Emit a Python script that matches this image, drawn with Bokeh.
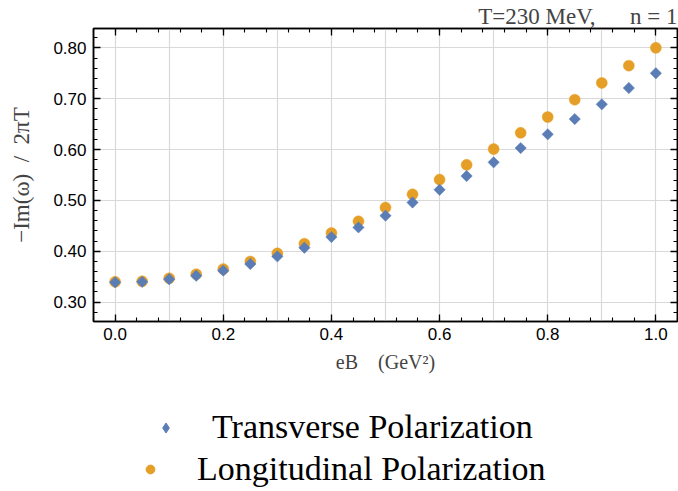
import math
from bokeh.plotting import figure
from bokeh.layouts import column
from bokeh.models import (LinearAxis, SingleIntervalTicker, NumeralTickFormatter,
                          Range1d, Legend, LegendItem, CustomLabelingPolicy)
from bokeh.embed import file_html
from bokeh.resources import INLINE

eB = [0.00, 0.05, 0.10, 0.15, 0.20, 0.25, 0.30, 0.35, 0.40, 0.45, 0.50,
      0.55, 0.60, 0.65, 0.70, 0.75, 0.80, 0.85, 0.90, 0.95, 1.00]
transverse = [0.339, 0.340, 0.345, 0.352, 0.362, 0.375, 0.390, 0.407, 0.428, 0.447, 0.470,
              0.496, 0.521, 0.548, 0.575, 0.603, 0.630, 0.660, 0.689, 0.721, 0.750]
longitudinal = [0.340, 0.341, 0.347, 0.355, 0.365, 0.380, 0.396, 0.415, 0.436, 0.459, 0.486,
                0.512, 0.541, 0.570, 0.601, 0.633, 0.664, 0.698, 0.731, 0.765, 0.800]
series_names = ["Transverse Polarization", "Longitudinal Polarization"]

BLUE = "#5a7db6"
ORANGE = "#e59f27"
NB = "\u00a0"
W = 678
H_MAIN = 385
H_LEG = 491 - H_MAIN
SERIF = "Liberation Serif"

p = figure(width=W, height=H_MAIN, output_backend="svg", toolbar_location=None,
           x_range=Range1d(-0.04, 1.04), y_range=Range1d(0.262, 0.838),
           min_border_left=93, min_border_top=28, min_border_right=1,
           min_border_bottom=H_MAIN - 321,
           title="T=230 MeV," + NB * 6 + "n" + NB + "=" + NB + "1")
p.title.align = "right"
p.title.text_font = SERIF
p.title.text_font_style = "normal"
p.title.text_font_size = "23px"
p.title.standoff = 0
p.title.offset = 0
p.background_fill_color = "white"
p.border_fill_color = "white"
p.outline_line_color = "black"
p.outline_line_width = 1.5

hide_labels = CustomLabelingPolicy(code="""
try { indices.clear() } catch (e) { for (const i of Array.from(indices)) indices.unset(i) }
return indices
""")

def style_axis(ax, show_labels):
    ax.axis_line_color = "black"
    ax.axis_line_width = 1.5
    ax.major_tick_in = 7
    ax.major_tick_out = 0
    ax.minor_tick_in = 4
    ax.minor_tick_out = 0
    ax.major_tick_line_color = "black"
    ax.minor_tick_line_color = "black"
    ax.major_tick_line_width = 1.3
    ax.minor_tick_line_width = 1.1
    ax.major_label_text_font = "Liberation Sans"
    ax.major_label_text_font_size = "17px" if show_labels else "0px"
    ax.major_label_text_color = "black"
    if not show_labels:
        ax.major_label_policy = hide_labels
        ax.major_label_standoff = 0

p.xaxis.ticker = SingleIntervalTicker(interval=0.2, num_minor_ticks=5)
p.xaxis.formatter = NumeralTickFormatter(format="0.0")
p.yaxis.ticker = SingleIntervalTicker(interval=0.1, num_minor_ticks=5)
p.yaxis.formatter = NumeralTickFormatter(format="0.00")
style_axis(p.xaxis[0], True)
style_axis(p.yaxis[0], True)
p.xaxis.major_label_standoff = 6
p.yaxis.major_label_standoff = 7

p.xaxis.axis_label = "eB" + NB * 4 + "(GeV²)"
p.xaxis.axis_label_text_font = SERIF
p.xaxis.axis_label_text_font_style = "normal"
p.xaxis.axis_label_text_font_size = "20px"
p.xaxis.axis_label_standoff = 8

p.yaxis.axis_label = "−Im(ω)" + NB * 2 + "/" + NB * 2 + "2πT"
p.yaxis.axis_label_text_font = SERIF
p.yaxis.axis_label_text_font_style = "normal"
p.yaxis.axis_label_text_font_size = "23px"
p.yaxis.axis_label_standoff = 16

top_ax = LinearAxis(ticker=SingleIntervalTicker(interval=0.2, num_minor_ticks=5))
right_ax = LinearAxis(ticker=SingleIntervalTicker(interval=0.1, num_minor_ticks=5))
style_axis(top_ax, False)
style_axis(right_ax, False)
p.add_layout(top_ax, "above")
p.add_layout(right_ax, "right")

p.xgrid.ticker = SingleIntervalTicker(interval=0.1)
p.ygrid.ticker = SingleIntervalTicker(interval=0.1)
p.xgrid.grid_line_color = "#d9d9d9"
p.ygrid.grid_line_color = "#d9d9d9"
p.xgrid.grid_line_width = 1.2
p.ygrid.grid_line_width = 1.2

LONG_STYLE = dict(marker="circle", size=11, fill_color=ORANGE, line_color=ORANGE, line_width=0.5)
TRAN_STYLE = dict(marker="square", size=8, angle=math.pi / 4,
                  fill_color=BLUE, line_color=BLUE, line_width=0.5)
p.scatter(eB, longitudinal, **LONG_STYLE)
p.scatter(eB, transverse, **TRAN_STYLE)

# legend panel below the plot (separate canvas so nothing is clipped);
# its ranges keep the series' own points out of view, only the key glyphs show
leg = figure(width=W, height=H_LEG, output_backend="svg", toolbar_location=None,
             x_range=Range1d(0, 1), y_range=Range1d(-3, -2),
             min_border=0, x_axis_type=None, y_axis_type=None)
leg.grid.visible = False
leg.outline_line_color = None
leg.background_fill_color = "white"
leg.border_fill_color = "white"
lt = leg.scatter(eB, transverse, marker="diamond", fill_color=BLUE, line_color=BLUE)
ll = leg.scatter(eB, longitudinal, marker="circle", fill_color=ORANGE, line_color=ORANGE)

def make_legend(label, renderer, loc, gsize, standoff):
    lg = Legend(items=[LegendItem(label=label, renderers=[renderer])],
                location=loc, padding=0, margin=0, spacing=0,
                border_line_color=None, background_fill_alpha=0,
                glyph_width=gsize, glyph_height=gsize, label_standoff=standoff,
                label_text_font=SERIF, label_text_font_size="34px",
                label_text_color="black")
    leg.add_layout(lg, "center")

make_legend(series_names[0], lt, (60, 45), 25, 34)
make_legend(series_names[1], ll, (46, 3), 22, 36)

open("out.html", "w").write(file_html(column(p, leg, spacing=0), INLINE))
